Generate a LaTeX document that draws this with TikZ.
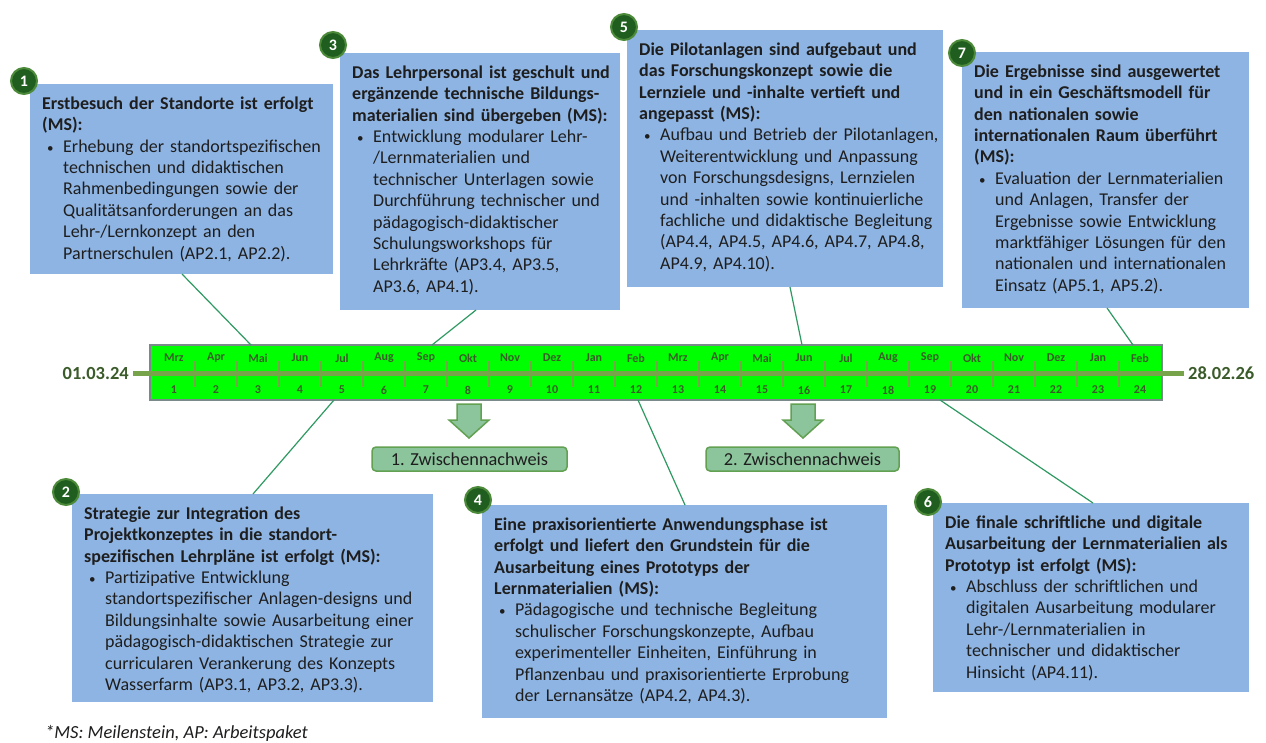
\documentclass[tikz,border=0pt]{standalone}
\usepackage{fontspec}
\setmainfont{Carlito}
\usetikzlibrary{calc}
\definecolor{boxblue}{HTML}{8EB4E3}
\definecolor{circfill}{HTML}{1F5E1F}
\definecolor{circring}{HTML}{4C8A3A}
\definecolor{conncol}{HTML}{2E9A62}
\definecolor{tlcol}{HTML}{77A34B}
\definecolor{darkol}{HTML}{3B5B2A}
\definecolor{barfill}{HTML}{00FF00}
\definecolor{bargray}{HTML}{7A8A8A}
\definecolor{zfill}{HTML}{8CC49C}
\definecolor{zdraw}{HTML}{62A052}
\definecolor{bodytxt}{HTML}{1E1E1E}
\newcommand\bul{\makebox[21pt][l]{\hspace{5pt}{\fontsize{13}{13}\selectfont •}}}
\newcommand\ind{\hspace*{21pt}}
\newcommand\firstl{\rule{0pt}{15pt}}
\begin{document}
\begin{tikzpicture}[x=1pt,y=-1pt,
  mbox/.style={rectangle, fill=boxblue, inner sep=0pt, outer sep=0pt, anchor=north west},
  txt/.style={anchor=north west, inner sep=0pt, text width=420pt, align=left,
    font=\fontsize{18}{21.4}\selectfont, text=bodytxt},
  numc/.style={circle, fill=circfill, draw=circring, line width=2pt, minimum size=26pt,
    inner sep=0pt, text=white, font=\fontsize{16}{16}\selectfont\bfseries},
  conn/.style={draw=conncol, line width=1.2pt},
  barbox/.style={rectangle, fill=barfill, draw=bargray, line width=1.5pt, inner sep=0pt, outer sep=0pt},
  datel/.style={inner sep=0pt, text=darkol, font=\fontsize{18.5}{18.5}\selectfont\bfseries},
  tline/.style={draw=tlcol, line width=5pt},
  tick/.style={draw=tlcol, line width=1.8pt},
  mon/.style={inner sep=0pt, text=darkol, font=\fontsize{12}{12}\selectfont\bfseries},
  zbox/.style={rectangle, rounded corners=4pt, fill=zfill, draw=zdraw, line width=1.5pt,
    inner sep=0pt, text=bodytxt, font=\fontsize{18.3}{18.3}\selectfont},
  barrow/.style={fill=zfill, draw=zdraw, line width=1.5pt, line join=miter},
  foot/.style={inner sep=0pt, text=bodytxt, font=\fontsize{18.5}{18.5}\selectfont\itshape}
]
\fill[white] (0,0) rectangle (1266,742);
\useasboundingbox (0,0) rectangle (1266,742);

% ---------- timeline ----------
\node[barbox, minimum width=1012pt, minimum height=55pt, anchor=north west] (bar) at (150,345) {};
\node[datel, anchor=east] (d1) at (129,373) {01.03.24};
\node[datel, anchor=west] (d2) at (1188,373) {28.02.26};
\draw[tline, shorten <=4pt, shorten >=4pt] (d1.east) -- (d2.west);
\foreach \k in {0,...,22} {\draw[tick] ({195+42*\k},361) -- ({195+42*\k},387);}
\foreach \m [count=\i] in {Mrz,Apr,Mai,Jun,Jul,Aug,Sep,Okt,Nov,Dez,Jan,Feb,Mrz,Apr,Mai,Jun,Jul,Aug,Sep,Okt,Nov,Dez,Jan,Feb} {
  \node[mon] (m\i) at ({174+42*(\i-1)},358) {\m};
  \node[mon] (k\i) at ({174+42*(\i-1)},390) {\i};
}

% ---------- boxes ----------
\node[mbox, minimum width=303pt, minimum height=190pt] (b1) at (30,84) {};
\node[txt] (t1) at ([shift={(12pt,-10pt)}]b1.north west) {\firstl\textbf{Erstbesuch der Standorte ist erfolgt}\\
\textbf{(MS):}\\
\bul Erhebung der standortspezifischen\\
\ind technischen und didaktischen\\
\ind Rahmenbedingungen sowie der\\
\ind Qualitätsanforderungen an das\\
\ind Lehr-/Lernkonzept an den\\
\ind Partnerschulen (AP2.1, AP2.2).};

\node[mbox, minimum width=280pt, minimum height=257pt] (b3) at (340,53) {};
\node[txt] (t3) at ([shift={(12pt,-10pt)}]b3.north west) {\firstl\textbf{Das Lehrpersonal ist geschult und}\\
\textbf{ergänzende technische Bildungs-}\\
\textbf{materialien sind übergeben (MS):}\\
\bul Entwicklung modularer Lehr-\\
\ind /Lernmaterialien und\\
\ind technischer Unterlagen sowie\\
\ind Durchführung technischer und\\
\ind pädagogisch-didaktischer\\
\ind Schulungsworkshops für\\
\ind Lehrkräfte (AP3.4, AP3.5,\\
\ind AP3.6, AP4.1).};

\node[mbox, minimum width=316pt, minimum height=257pt] (b5) at (627,30) {};
\node[txt] (t5) at ([shift={(12pt,-10pt)}]b5.north west) {\firstl\textbf{Die Pilotanlagen sind aufgebaut und}\\
\textbf{das Forschungskonzept sowie die}\\
\textbf{Lernziele und -inhalte vertieft und}\\
\textbf{angepasst (MS):}\\
\bul Aufbau und Betrieb der Pilotanlagen,\\
\ind Weiterentwicklung und Anpassung\\
\ind von Forschungsdesigns, Lernzielen\\
\ind und -inhalten sowie kontinuierliche\\
\ind fachliche und didaktische Begleitung\\
\ind (AP4.4, AP4.5, AP4.6, AP4.7, AP4.8,\\
\ind AP4.9, AP4.10).};

\node[mbox, minimum width=287pt, minimum height=256pt] (b7) at (962,52) {};
\node[txt] (t7) at ([shift={(12pt,-10pt)}]b7.north west) {\firstl\textbf{Die Ergebnisse sind ausgewertet}\\
\textbf{und in ein Geschäftsmodell für}\\
\textbf{den nationalen sowie}\\
\textbf{internationalen Raum überführt}\\
\textbf{(MS):}\\
\bul Evaluation der Lernmaterialien\\
\ind und Anlagen, Transfer der\\
\ind Ergebnisse sowie Entwicklung\\
\ind marktfähiger Lösungen für den\\
\ind nationalen und internationalen\\
\ind Einsatz (AP5.1, AP5.2).};

\node[mbox, minimum width=361pt, minimum height=208pt] (b2) at (72,494) {};
\node[txt] (t2) at ([shift={(12pt,-10pt)}]b2.north west) {\firstl\textbf{Strategie zur Integration des}\\
\textbf{Projektkonzeptes in die standort-}\\
\textbf{spezifischen Lehrpläne ist erfolgt (MS):}\\
\bul Partizipative Entwicklung\\
\ind standortspezifischer Anlagen-designs und\\
\ind Bildungsinhalte sowie Ausarbeitung einer\\
\ind pädagogisch-didaktischen Strategie zur\\
\ind curricularen Verankerung des Konzepts\\
\ind Wasserfarm (AP3.1, AP3.2, AP3.3).};

\node[mbox, minimum width=405pt, minimum height=213pt] (b4) at (482,505) {};
\node[txt] (t4) at ([shift={(12pt,-10pt)}]b4.north west) {\firstl\textbf{Eine praxisorientierte Anwendungsphase ist}\\
\textbf{erfolgt und liefert den Grundstein für die}\\
\textbf{Ausarbeitung eines Prototyps der}\\
\textbf{Lernmaterialien (MS):}\\
\bul Pädagogische und technische Begleitung\\
\ind schulischer Forschungskonzepte, Aufbau\\
\ind experimenteller Einheiten, Einführung in\\
\ind Pflanzenbau und praxisorientierte Erprobung\\
\ind der Lernansätze (AP4.2, AP4.3).};

\node[mbox, minimum width=316pt, minimum height=189pt] (b6) at (933,503) {};
\node[txt] (t6) at ([shift={(12pt,-10pt)}]b6.north west) {\firstl\textbf{Die finale schriftliche und digitale}\\
\textbf{Ausarbeitung der Lernmaterialien als}\\
\textbf{Prototyp ist erfolgt (MS):}\\
\bul Abschluss der schriftlichen und\\
\ind digitalen Ausarbeitung modularer\\
\ind Lehr-/Lernmaterialien in\\
\ind technischer und didaktischer\\
\ind Hinsicht (AP4.11).};

% ---------- number circles ----------
\node[numc] (n1) at (24,81) {1};
\node[numc] (n2) at (66,492) {2};
\node[numc] (n3) at (333,45) {3};
\node[numc] (n4) at (478,500) {4};
\node[numc] (n5) at (624,27) {5};
\node[numc] (n6) at (928,502) {6};
\node[numc] (n7) at (962,53) {7};

% ---------- connectors ----------
\draw[conn] ([xshift=152pt]b1.south west) -- ([xshift=101pt]bar.north west);
\draw[conn] ([xshift=136pt]b3.south west) -- ([xshift=282pt]bar.north west);
\draw[conn] ([xshift=163pt]b5.south west) -- ([xshift=652pt]bar.north west);
\draw[conn] ([xshift=145pt]b7.south west) -- ([xshift=983pt]bar.north west);
\draw[conn] ([xshift=184pt]bar.south west) -- ([xshift=181pt]b2.north west);
\draw[conn] ([xshift=488pt]bar.south west) -- ([xshift=203pt]b4.north west);
\draw[conn] ([xshift=790pt]bar.south west) -- ([xshift=160pt]b6.north west);

% ---------- Zwischennachweise ----------
\node[zbox, minimum width=195pt, minimum height=24pt] (z1) at (469.5,459) {1. Zwischennachweis};
\node[zbox, minimum width=193pt, minimum height=24pt] (z2) at (802.5,459) {2. Zwischennachweis};
\draw[barrow] (457,404) -- (481,404) -- (481,420) -- (489,420) -- (469,438) -- (449,420) -- (457,420) -- cycle;
\draw[barrow] (791,404) -- (815,404) -- (815,420) -- (823,420) -- (803,438) -- (783,420) -- (791,420) -- cycle;

% ---------- footnote ----------
\node[foot, anchor=base west] (fn) at (45,738) {*MS: Meilenstein, AP: Arbeitspaket};
\end{tikzpicture}
\end{document}
